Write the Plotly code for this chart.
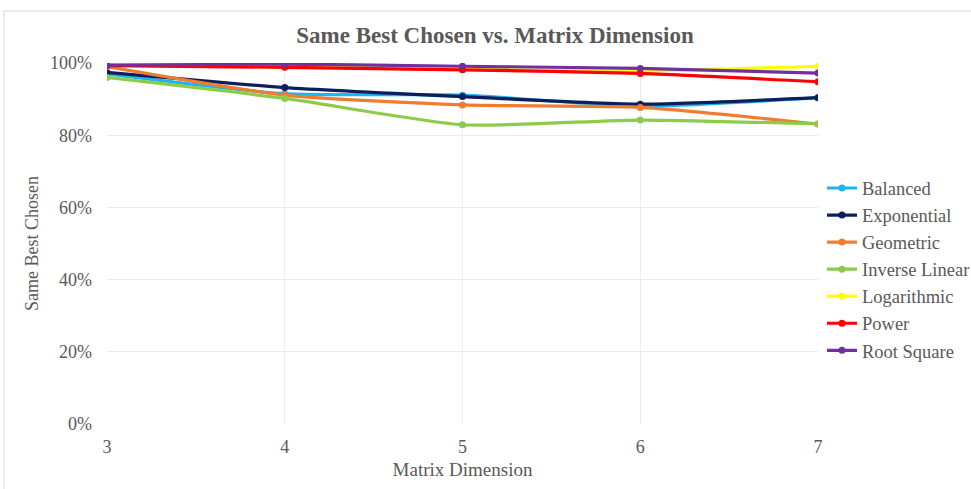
import plotly.graph_objects as go

dims = [3, 4, 5, 6, 7]
balanced = [0.970, 0.915, 0.911, 0.880, 0.904]
exponential = [0.974, 0.932, 0.907, 0.886, 0.904]
geometric = [0.990, 0.911, 0.884, 0.877, 0.831]
inverse_linear = [0.960, 0.902, 0.829, 0.842, 0.831]
logarithmic = [0.995, 0.990, 0.983, 0.978, 0.991]
power = [0.993, 0.988, 0.981, 0.971, 0.948]
root_square = [0.994, 0.997, 0.991, 0.985, 0.972]

series = [
    ("Balanced", balanced, "#1fb4ec"),
    ("Exponential", exponential, "#0b1f5c"),
    ("Geometric", geometric, "#ee7d31"),
    ("Inverse Linear", inverse_linear, "#8dcb4a"),
    ("Logarithmic", logarithmic, "#ffff00"),
    ("Power", power, "#ff0000"),
    ("Root Square", root_square, "#7030a0"),
]

FONT = "'Times New Roman', 'Liberation Serif', serif"
GREY = "#595959"

fig = go.Figure()
for name, vals, color in series:
    fig.add_trace(go.Scatter(
        x=dims, y=vals, name=name, mode="lines+markers",
        line=dict(color=color, width=3.2, shape="spline", smoothing=0.6),
        marker=dict(color=color, size=7),
    ))

fig.update_layout(
    width=971, height=489,
    margin=dict(l=107, r=153, t=63, b=65, autoexpand=False),
    paper_bgcolor="white", plot_bgcolor="white",
    font=dict(family=FONT, color=GREY, size=17),
    title=dict(text="<b>Same Best Chosen vs. Matrix Dimension</b>",
               x=495 / 971, xref="container", xanchor="center",
               y=1 - 35 / 489, yanchor="middle",
               font=dict(family=FONT, size=23, color=GREY)),
    xaxis=dict(range=[3, 7], tickvals=dims, showgrid=True, gridcolor="#ececec",
               zeroline=False, showline=False, ticks="", ticklabelstandoff=10,
               title=dict(text="Matrix Dimension", standoff=6,
                          font=dict(family=FONT, size=19, color=GREY)),
               tickfont=dict(family=FONT, size=18, color=GREY)),
    yaxis=dict(range=[0, 1.0], tickvals=[0, 0.2, 0.4, 0.6, 0.8, 1.0],
               tickformat=".0%", showgrid=True, gridcolor="#ececec",
               zeroline=False, showline=False, ticks="", ticklabelstandoff=14,
               title=dict(text="Same Best Chosen", standoff=6,
                          font=dict(family=FONT, size=18, color=GREY)),
               tickfont=dict(family=FONT, size=18, color=GREY)),
    legend=dict(x=1.0056, y=0.705, xanchor="left", yanchor="top",
                font=dict(family=FONT, size=18.5, color=GREY),
                bgcolor="rgba(0,0,0,0)", itemwidth=30, tracegroupgap=0),
    showlegend=True,
)

# outer chart border
fig.add_shape(type="rect", xref="paper", yref="paper",
              x0=-0.145, x1=1.4, y0=-0.4, y1=1.144,
              line=dict(color="#d9d9d9", width=1), layer="below")

fig.write_html("out.html")
